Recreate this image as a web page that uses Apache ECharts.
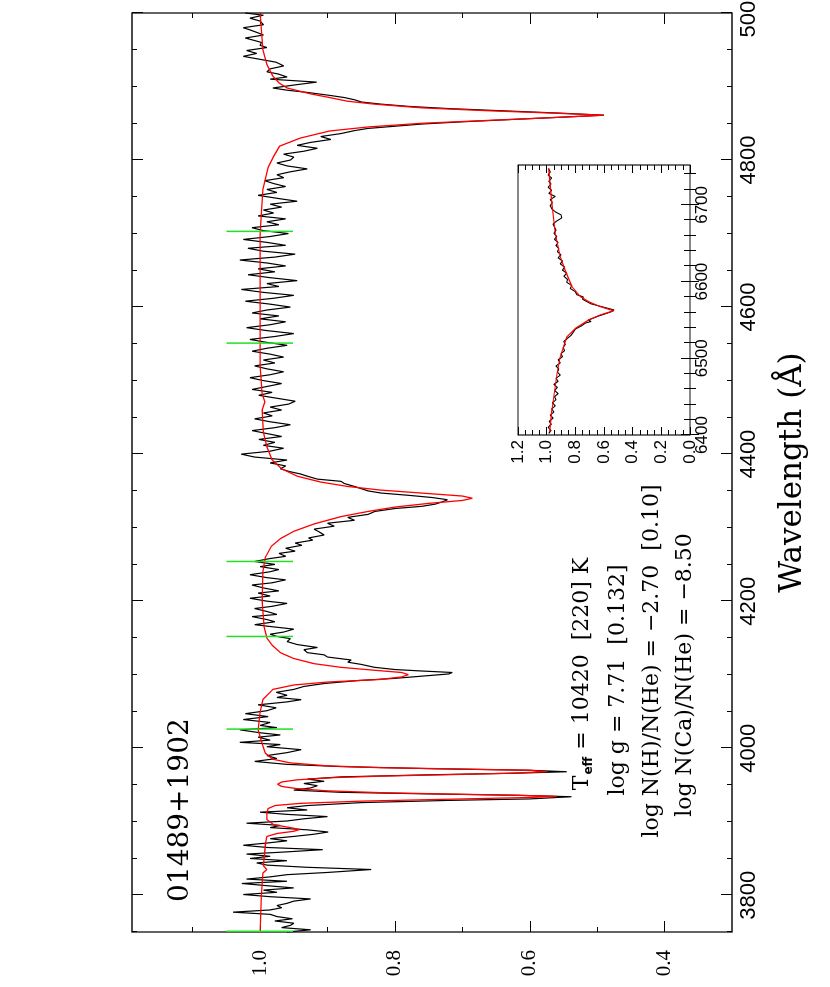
<!DOCTYPE html>
<html><head><meta charset="utf-8">
<script src="https://cdn.jsdelivr.net/npm/echarts@6/dist/echarts.min.js"></script>
<style>
html,body{margin:0;padding:0;background:#fff;width:830px;height:987px;overflow:hidden;}
#chart{position:absolute;left:0;top:0;width:987px;height:830px;transform-origin:0 0;transform:translate(0,987px) rotate(-90deg);background:#fff;}
</style></head><body><div id="chart"></div>
<script>
// ---------- DATA ----------
const starName = '01489+1902';
const fitLines = [
  {t:'T', sub:'eff', rest:' = 10420  [220] K'},
  {t:'log g = 7.71  [0.132]'},
  {t:'log N(H)/N(He) = \u22122.70  [0.10]'},
  {t:'log N(Ca)/N(He) = \u22128.50'}
];
const waveMajorTicks = [3800,4000,4200,4400,4600,4800,5000];
const waveMinorTicks = [3750,3800,3850,3900,3950,4000,4050,4100,4150,4200,4250,4300,4350,4400,4450,4500,4550,4600,4650,4700,4750,4800,4850,4900,4950,5000];
const fluxMajorTicks = [0.4,0.6,0.8,1.0];
const fluxMinorTicks = [0.4,0.5,0.6,0.7,0.8,0.9,1.0,1.1];
const insetWaveMajorTicks = [6400,6500,6600,6700];
const insetWaveMinorTicks = [6400,6420,6440,6460,6480,6500,6520,6540,6560,6580,6600,6620,6640,6660,6680,6700,6720,6740];
const insetFluxMajorTicks = [0,0.2,0.4,0.6,0.8,1.0,1.2];
const insetFluxMinorTicks = [0,0.05,0.1,0.15,0.2,0.25,0.3,0.35,0.4,0.45,0.5,0.55,0.6,0.65,0.7,0.75,0.8,0.85,0.9,0.95,1.0,1.05,1.1,1.15,1.2];
// continuum marks (wavelength), flux extent
const markWaves = [3751,4026,4152,4254,4551,4703];
const markLow = 0.951, markHigh = 1.05;

// observed spectrum [wavelength, normalized flux]
const observedMain = [
[3750,0.960],[3753,0.925],[3756,0.968],[3759,0.955],[3762,0.950],[3765,0.978],[3768,0.952],[3771,0.975],[3774,0.985],[3777,1.040],
[3780,0.985],[3783,0.968],[3786,0.975],[3789,0.960],[3792,0.950],[3795,0.925],[3798,0.985],[3801,1.025],[3804,0.975],[3807,0.995],
[3810,0.950],[3813,0.990],[3816,1.027],[3819,0.960],[3822,1.020],[3825,0.985],[3828,0.960],[3831,0.900],[3835,0.835],[3838,0.930],
[3841,0.990],[3844,1.005],[3847,0.960],[3850,1.015],[3853,0.985],[3856,1.020],[3859,0.960],[3862,0.907],[3865,0.990],[3868,1.025],
[3871,0.990],[3874,0.960],[3877,0.985],[3880,0.950],[3883,0.920],[3886,0.899],[3889,0.930],[3892,0.985],[3895,0.970],[3898,1.020],
[3901,0.960],[3904,0.935],[3907,0.900],[3910,0.960],[3913,1.000],[3916,0.930],[3919,0.960],[3922,0.930],
[3926,0.850],[3929,0.720],[3931,0.600],[3934,0.538],[3936,0.620],[3938,0.760],[3940,0.880],[3943,0.950],[3946,0.925],[3949,0.915],
[3952,0.935],[3955,0.905],[3958,0.930],[3961,0.880],[3964,0.740],[3966,0.620],[3968,0.545],[3970,0.600],[3972,0.740],[3975,0.880],[3978,0.960],
[3982,1.008],[3986,0.975],[3990,0.990],[3994,0.960],[3998,0.939],[4002,0.990],[4005,0.970],[4008,1.030],[4011,0.985],[4015,1.003],
[4018,0.970],[4021,1.000],[4025,1.030],[4028,0.975],[4031,1.000],[4035,0.985],[4039,1.025],[4043,0.988],[4047,1.022],[4051,0.990],
[4055,0.976],[4059,1.003],[4063,0.960],[4066,0.939],[4069,0.975],[4072,0.960],[4076,0.976],[4080,0.950],[4084,0.935],[4088,0.905],[4092,0.855],
[4095,0.800],[4098,0.760],[4101,0.720],[4103,0.715],[4105,0.760],[4107,0.800],[4110,0.830],[4114,0.850],[4117,0.870],[4120,0.865],
[4124,0.900],[4127,0.905],[4130,0.930],[4134,0.935],[4137,0.915],[4141,0.945],[4145,0.960],[4149,0.955],[4152,0.975],
[4155,0.985],[4158,0.965],[4162,0.950],[4165,0.980],[4168,1.008],[4172,0.978],[4175,0.990],[4179,1.012],[4182,0.975],[4186,0.990],
[4190,1.008],[4193,0.982],[4197,0.960],[4200,0.990],[4204,1.015],[4207,0.985],[4211,1.003],[4214,0.972],[4218,0.995],[4222,1.012],
[4225,0.982],[4229,0.962],[4232,0.990],[4236,1.015],[4240,0.985],[4243,0.972],[4247,1.000],[4250,0.978],[4254,1.008],[4258,0.985],
[4261,0.962],[4265,0.972],[4268,0.948],[4272,0.962],[4276,0.938],[4279,0.948],[4283,0.922],[4286,0.928],[4290,0.905],[4294,0.912],
[4298,0.920],[4302,0.890],[4306,0.900],[4310,0.860],[4314,0.870],[4318,0.840],[4322,0.830],[4326,0.800],[4329,0.760],[4332,0.740],
[4335,0.730],[4338,0.722],[4341,0.745],[4344,0.780],[4347,0.820],[4350,0.840],[4353,0.850],[4356,0.860],[4360,0.875],[4363,0.880],
[4366,0.915],[4370,0.930],[4373,0.940],[4376,0.955],[4380,0.970],
[4384,0.962],[4388,0.985],[4392,0.960],[4396,1.008],[4400,1.028],[4404,0.985],[4408,0.965],[4412,0.995],[4416,0.978],[4420,1.002],
[4424,0.968],[4428,0.990],[4432,1.012],[4436,0.978],[4440,0.955],[4444,0.985],[4448,1.008],[4452,0.982],[4456,0.995],[4460,0.968],
[4464,0.985],[4468,0.958],[4472,0.948],[4476,0.975],[4480,1.002],[4484,0.982],[4488,1.012],[4492,0.990],[4496,0.968],[4500,0.995],
[4504,1.015],[4508,0.985],[4512,0.965],[4516,0.990],[4520,1.008],[4524,0.978],[4528,0.995],[4532,0.965],[4536,0.985],[4540,1.012],
[4544,0.990],[4548,0.960],[4552,0.990],[4556,1.015],[4560,0.978],[4564,0.950],[4568,0.990],[4572,1.020],[4576,0.985],[4580,0.962],
[4584,1.000],[4588,0.972],[4592,1.012],[4596,0.990],[4600,0.955],[4604,0.985],[4608,1.022],[4612,0.980],[4616,0.950],[4620,0.995],
[4624,1.028],[4628,0.972],[4632,0.990],[4636,0.945],[4640,0.985],[4644,1.018],[4648,0.978],[4652,1.003],[4656,0.962],[4660,0.990],
[4664,1.030],[4668,0.978],[4672,0.948],[4676,0.995],[4680,1.018],[4684,0.962],[4688,0.990],[4692,1.025],[4696,0.985],[4700,0.958],
[4704,0.995],[4708,1.012],[4712,0.972],[4716,0.990],[4720,0.962],[4724,1.003],[4728,0.980],[4732,0.995],[4736,0.968],[4740,0.985],
[4744,0.945],[4748,0.975],[4752,1.003],[4756,0.975],[4760,0.990],[4764,0.962],[4768,0.980],[4772,0.993],[4776,0.965],[4780,0.975],
[4784,0.955],[4788,0.930],[4792,0.960],[4796,0.975],[4800,0.955],
[4804,0.950],[4808,0.965],[4812,0.935],[4816,0.915],[4820,0.945],[4824,0.925],[4828,0.895],[4832,0.910],[4836,0.880],[4840,0.860],
[4843,0.840],[4846,0.800],[4849,0.760],[4852,0.700],[4855,0.630],[4858,0.560],[4861,0.490],[4864,0.560],[4867,0.640],[4870,0.720],
[4873,0.780],[4876,0.820],[4879,0.850],[4882,0.860],[4885,0.875],[4888,0.897],[4892,0.930],[4895,0.960],[4898,0.981],[4902,0.950],
[4906,0.916],[4910,0.985],[4913,0.960],[4917,0.973],[4920,0.990],[4924,0.985],[4928,0.965],[4933,0.976],[4937,1.000],[4941,1.025],
[4945,1.005],[4949,1.020],[4953,0.990],[4956,1.000],[4960,0.998],[4963,1.010],[4966,1.022],[4970,0.995],[4973,1.003],[4977,1.015],
[4980,1.025],[4984,0.995],[4989,1.000],[4993,1.015],[4997,0.995],[5000,1.022]
];
// model fit
const modelMain = [
[3750,1.000],[3800,0.998],[3830,0.996],[3835,0.990],[3840,0.995],[3870,0.992],[3880,0.990],[3884,0.975],[3887,0.950],[3889.5,0.941],
[3892,0.955],[3896,0.980],[3903,0.990],[3912,0.990],[3918,0.988],[3922,0.978],[3925,0.940],[3928,0.850],[3931,0.700],[3933,0.600],
[3934.5,0.560],[3936,0.620],[3938,0.740],[3939.5,0.820],[3942,0.900],[3945,0.945],[3948,0.968],[3951,0.974],[3954,0.968],[3957,0.945],
[3960,0.890],[3962,0.822],[3964,0.720],[3966,0.630],[3968,0.575],[3970,0.600],[3972,0.720],[3973.5,0.822],[3976,0.900],[3980,0.955],
[3985,0.981],[3993,0.992],[4003,0.996],[4025,1.003],[4049,1.000],[4066,0.996],[4080,0.981],[4086,0.950],[4090,0.900],[4093.5,0.822],
[4097,0.790],[4100,0.780],[4103,0.790],[4106,0.830],[4110,0.880],[4115,0.920],[4122,0.950],[4130,0.970],[4140,0.982],[4150,0.990],
[4165,0.994],[4200,0.997],[4240,0.996],[4260,0.992],[4275,0.983],[4285,0.970],[4295,0.950],[4305,0.920],[4315,0.880],[4322,0.840],
[4328,0.800],[4333,0.750],[4337,0.700],[4340,0.685],[4343,0.700],[4347,0.760],[4351,0.820],[4356,0.870],[4362,0.910],[4370,0.945],
[4380,0.968],[4392,0.982],[4410,0.990],[4430,0.995],[4460,0.997],[4471,0.993],[4482,0.997],[4520,1.000],[4600,1.000],[4700,1.000],
[4760,0.996],[4790,0.988],[4805,0.980],[4819,0.971],[4830,0.940],[4839.5,0.897],[4845,0.840],[4850,0.760],[4854,0.660],[4858,0.560],
[4861,0.490],[4864,0.570],[4867,0.660],[4871,0.760],[4876,0.830],[4880,0.870],[4885,0.897],[4890,0.925],[4898,0.960],[4905,0.972],
[4914,0.981],[4930,0.990],[4950,0.996],[5000,1.000]
];
// H-alpha inset
const observedInset = [
[6402,0.985],[6406,0.970],[6410,0.990],[6414,0.968],[6418,0.982],[6422,0.955],[6426,0.975],[6430,0.950],[6434,0.965],[6438,0.940],
[6442,0.960],[6446,0.935],[6450,0.945],[6454,0.920],[6458,0.945],[6462,0.925],[6466,0.950],[6470,0.920],[6474,0.935],[6478,0.905],
[6482,0.925],[6486,0.915],[6490,0.935],[6494,0.905],[6498,0.920],[6502,0.890],[6506,0.900],[6510,0.875],[6514,0.885],[6518,0.870],
[6522,0.880],[6526,0.855],[6530,0.830],[6534,0.815],[6538,0.800],[6542,0.760],[6546,0.730],[6548,0.690],[6550,0.710],[6552,0.680],
[6555,0.640],[6558,0.590],[6561,0.545],[6563,0.530],[6565,0.570],[6568,0.630],[6571,0.690],[6574,0.720],[6577,0.750],[6580,0.745],
[6583,0.790],[6587,0.800],[6591,0.835],[6595,0.825],[6599,0.860],[6603,0.855],[6607,0.880],[6611,0.860],[6615,0.890],[6619,0.875],
[6623,0.905],[6627,0.890],[6631,0.920],[6635,0.900],[6639,0.925],[6643,0.915],[6647,0.935],[6651,0.920],[6655,0.945],[6659,0.930],
[6663,0.950],[6667,0.935],[6671,0.945],[6675,0.955],[6679,0.930],[6683,0.895],[6687,0.900],[6691,0.940],[6695,0.965],[6699,0.975],
[6703,0.960],[6707,0.975],[6711,0.940],[6715,0.985],[6719,0.965],[6723,0.990],[6727,0.970],[6731,0.985],[6735,0.965],[6739,0.990],
[6743,0.975],[6747,0.985]
];
const modelInset = [
[6404,0.980],[6433,0.963],[6480,0.928],[6502,0.905],[6528,0.859],[6539,0.800],[6550,0.707],[6556.5,0.627],[6562,0.534],[6567.4,0.627],
[6573.8,0.707],[6580.4,0.765],[6593.5,0.824],[6615,0.871],[6632.5,0.905],[6663,0.940],[6702,0.963],[6748,0.987]
];

// ---------- CHART ----------
const chart = echarts.init(document.getElementById('chart'), null, {renderer:'canvas'});
const fmt1 = v => Number(v).toFixed(1);
const fmt0 = v => String(Math.round(v));
function axis(o){
  const a = {
    type:'value', gridIndex:o.grid, position:o.pos, min:o.min, max:o.max,
    axisLine:{show:false}, splitLine:{show:false},
    axisTick:{show:true, inside:true, length:o.len, customValues:o.ticks, lineStyle:{color:'#000', width:1}},
    axisLabel:o.label ? Object.assign({show:true, customValues:o.ticks, color:'#000', showMinLabel:true, showMaxLabel:true, hideOverlap:false}, o.label) : {show:false}
  };
  if (o.name) Object.assign(a, o.name);
  return a;
}
const WMIN=3750, WMAX=5000, FMIN=0.3, FMAX=1.19;
const IWMIN=6400, IWMAX=6752, IFMIN=0, IFMAX=1.2;
const xAxes = [
  axis({grid:0,pos:'bottom',min:WMIN,max:WMAX,len:11,ticks:waveMajorTicks,
    label:{fontFamily:'Liberation Sans',fontSize:22,margin:6,formatter:fmt0},
    name:{name:'Wavelength (\u00C5)',nameLocation:'middle',nameGap:45,nameTextStyle:{fontFamily:'DejaVu Serif',fontSize:31,color:'#000'}}}),
  axis({grid:0,pos:'bottom',min:WMIN,max:WMAX,len:5,ticks:waveMinorTicks}),
  axis({grid:0,pos:'top',min:WMIN,max:WMAX,len:11,ticks:waveMajorTicks}),
  axis({grid:0,pos:'top',min:WMIN,max:WMAX,len:5,ticks:waveMinorTicks}),
  axis({grid:1,pos:'bottom',min:IWMIN,max:IWMAX,len:9,ticks:insetWaveMajorTicks,
    label:{fontFamily:'Liberation Sans',fontSize:17,margin:4,formatter:fmt0}}),
  axis({grid:1,pos:'bottom',min:IWMIN,max:IWMAX,len:6,ticks:insetWaveMinorTicks}),
  axis({grid:1,pos:'top',min:IWMIN,max:IWMAX,len:9,ticks:insetWaveMajorTicks}),
  axis({grid:1,pos:'top',min:IWMIN,max:IWMAX,len:6,ticks:insetWaveMinorTicks})
];
const yAxes = [
  axis({grid:0,pos:'left',min:FMIN,max:FMAX,len:11,ticks:fluxMajorTicks,
    label:{fontFamily:'Liberation Serif',fontSize:21,margin:18,formatter:fmt1}}),
  axis({grid:0,pos:'left',min:FMIN,max:FMAX,len:5,ticks:fluxMinorTicks}),
  axis({grid:0,pos:'right',min:FMIN,max:FMAX,len:11,ticks:fluxMajorTicks}),
  axis({grid:0,pos:'right',min:FMIN,max:FMAX,len:5,ticks:fluxMinorTicks}),
  axis({grid:1,pos:'left',min:IFMIN,max:IFMAX,len:8,ticks:insetFluxMajorTicks,
    label:{fontFamily:'Liberation Sans',fontSize:17,margin:5,formatter:fmt1}}),
  axis({grid:1,pos:'left',min:IFMIN,max:IFMAX,len:5,ticks:insetFluxMinorTicks}),
  axis({grid:1,pos:'right',min:IFMIN,max:IFMAX,len:8,ticks:insetFluxMajorTicks}),
  axis({grid:1,pos:'right',min:IFMIN,max:IFMAX,len:5,ticks:insetFluxMinorTicks})
];
function lineSeries(data, color, width, xi, yi, z){
  return {type:'line', data:data, xAxisIndex:xi, yAxisIndex:yi, symbol:'none', showSymbol:false,
    lineStyle:{color:color, width:width}, itemStyle:{color:color}, z:z, silent:true, animation:false};
}
const series = [
  lineSeries(observedMain,'#000',1.2,0,0,3),
  lineSeries(modelMain,'#ff0000',1.3,0,0,4),
  lineSeries(observedInset,'#000',1.1,4,4,3),
  lineSeries(modelInset,'#ff0000',1.2,4,4,4)
];
markWaves.forEach(w => series.push(lineSeries([[w,markLow],[w,markHigh]],'#22e022',1.5,0,0,5)));

const serifFont = '"DejaVu Serif"';
const textTops = [571, 606, 640, 673];
const textCenters = [313, 307, 326, 312];
const graphics = [
  {type:'text', left:85, top:167, style:{text:starName, font:'28px '+serifFont, fill:'#000'}, z:10}
];
fitLines.forEach((ln,i) => {
  let style;
  if (ln.sub) {
    style = {text:'{t|'+ln.t+'}{s|'+ln.sub+'}{t|'+ln.rest+'}', rich:{
      t:{fontFamily:'DejaVu Serif', fontSize:22, lineHeight:24, verticalAlign:'top', fill:'#000'},
      s:{fontFamily:'DejaVu Sans', fontSize:12, fontWeight:'bold', lineHeight:13, padding:[16,0,0,1], verticalAlign:'bottom', fill:'#000'}
    }};
  } else {
    style = {text:ln.t, fontFamily:'DejaVu Serif', fontSize:22, lineHeight:24};
  }
  Object.assign(style, {x:textCenters[i], y:textTops[i], fill:'#000', align:'center', textAlign:'center', verticalAlign:'top', textVerticalAlign:'top'});
  graphics.push({type:'text', style:style, z:10});
});

chart.setOption({
  backgroundColor:'#fff',
  animation:false,
  grid:[
    {left:55, right:13, top:132, bottom:98, show:true, borderColor:'#111', borderWidth:1.3, backgroundColor:'transparent', containLabel:false, outerBoundsMode:'none'},
    {left:552, top:518, width:270, height:172, show:true, borderColor:'#111', borderWidth:1.2, backgroundColor:'#fff', containLabel:false, outerBoundsMode:'none'}
  ],
  xAxis:xAxes, yAxis:yAxes, series:series, graphic:graphics
});
</script></body></html>
